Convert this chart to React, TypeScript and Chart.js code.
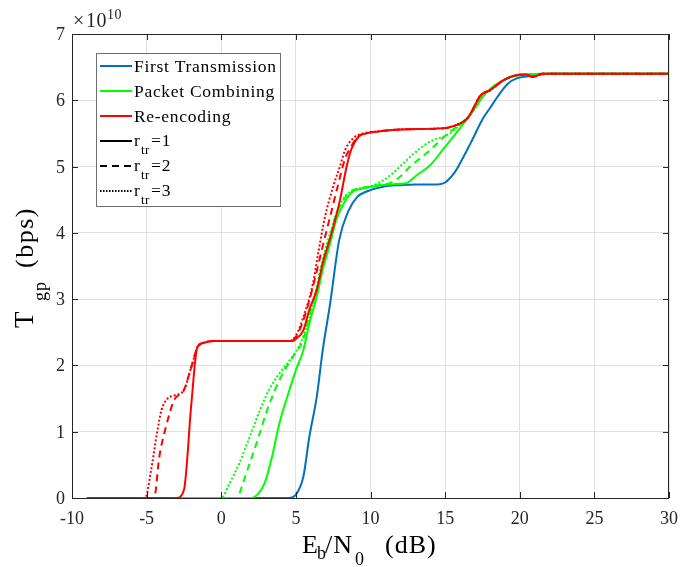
import React, { useEffect, useRef } from "react";
import { Chart, registerables } from "chart.js";

Chart.register(...registerables);

// ---- axis ticks ----
const xTicks = [-10, -5, 0, 5, 10, 15, 20, 25, 30];
const yTicks = [0, 1, 2, 3, 4, 5, 6, 7];
const xTickLabels = ["-10", "-5", "0", "5", "10", "15", "20", "25", "30"];
const yTickLabels = ["0", "1", "2", "3", "4", "5", "6", "7"];

// ---- series (Eb/N0 in dB, throughput in units of 1e10 bps) ----
const ftX = [-9, 4.5, 5.0, 5.5, 5.9, 6.4, 6.8, 7.3, 7.9, 8.5, 9.1, 9.7, 10.9, 12, 13, 14.5, 15, 15.6, 16, 16.7, 17.6, 18, 18.5, 19.2, 19.8, 20.9, 22, 30];
const ftY = [0, 0, 0.05, 0.32, 0.92, 1.53, 2.23, 2.94, 3.89, 4.32, 4.54, 4.62, 4.70, 4.72, 4.73, 4.73, 4.76, 4.9, 5.05, 5.35, 5.75, 5.88, 6.05, 6.25, 6.33, 6.37, 6.40, 6.40];

const pc1X = [-9, 2.0, 2.5, 2.9, 3.4, 3.9, 4.5, 5.0, 5.5, 5.9, 6.4, 6.8, 7.3, 7.7, 8.2, 8.8, 9.5, 10.5, 12, 12.4, 13.1, 14, 14.9, 16, 16.9, 17.6, 18.5, 19.5, 20.5, 22, 30];
const pc1Y = [0, 0, 0.07, 0.22, 0.62, 1.13, 1.58, 1.93, 2.23, 2.63, 3.04, 3.44, 3.84, 4.19, 4.44, 4.62, 4.67, 4.71, 4.74, 4.75, 4.87, 5.02, 5.27, 5.58, 5.85, 6.08, 6.25, 6.36, 6.39, 6.40, 6.40];

const pc2X = [-9, 1.1, 1.3, 1.9, 2.5, 3.0, 3.6, 4.25, 4.8, 5.5, 5.9, 6.4, 6.8, 7.3, 7.7, 8.2, 8.8, 9.5, 10.5, 11.3, 12, 12.65, 13.3, 14, 14.7, 15.3, 16.2, 16.9, 17.6, 18.5, 19.5, 20.5, 22, 30];
const pc2Y = [0, 0, 0.12, 0.52, 0.92, 1.28, 1.63, 1.93, 2.13, 2.4, 2.75, 3.15, 3.55, 3.95, 4.27, 4.5, 4.64, 4.68, 4.72, 4.75, 4.85, 5.0, 5.12, 5.25, 5.4, 5.52, 5.68, 5.85, 6.08, 6.25, 6.36, 6.39, 6.40, 6.40];

const pc3X = [-9, 0, 0.55, 1.2, 1.9, 2.6, 3.2, 3.9, 4.6, 5.3, 5.8, 6.3, 6.8, 7.3, 7.8, 8.3, 8.9, 9.5, 10, 10.9, 11.5, 12.2, 13.3, 14.2, 15.1, 16, 16.7, 17.5, 18.5, 19.5, 20.5, 22, 30];
const pc3Y = [0, 0, 0.22, 0.52, 0.92, 1.33, 1.63, 1.88, 2.08, 2.33, 2.65, 3.1, 3.6, 4.0, 4.35, 4.55, 4.65, 4.68, 4.7, 4.8, 4.9, 5.05, 5.27, 5.4, 5.47, 5.63, 5.78, 6.05, 6.25, 6.36, 6.39, 6.40, 6.40];

const re1X = [-9, -3.0, -2.5, -2.0, -1.6, -1.2, -0.5, 4.8, 5.0, 5.5, 5.9, 6.4, 6.8, 7.4, 7.95, 8.4, 8.7, 9.2, 9.7, 10.5, 12, 15, 15.4, 16.5, 17.4, 18, 18.9, 19.6, 20.4, 20.9, 21.5, 30];
const re1Y = [0, 0, 0.12, 1.43, 2.28, 2.34, 2.37, 2.37, 2.4, 2.53, 2.84, 3.14, 3.54, 4.0, 4.49, 5.0, 5.25, 5.45, 5.5, 5.53, 5.56, 5.58, 5.6, 5.73, 6.08, 6.15, 6.3, 6.37, 6.39, 6.35, 6.40, 6.40];

const re2X = [-9, -4.5, -4.15, -3.7, -3.15, -2.5, -2.0, -1.6, -1.2, -0.5, 4.7, 5.0, 5.4, 5.9, 6.3, 6.8, 7.3, 7.8, 8.3, 8.7, 9.2, 9.7, 10.5, 12, 15, 15.4, 16.5, 17.4, 18, 18.9, 19.6, 20.4, 20.9, 21.5, 30];
const re2Y = [0, 0, 0.62, 1.08, 1.48, 1.63, 1.98, 2.27, 2.34, 2.37, 2.37, 2.43, 2.62, 2.98, 3.33, 3.8, 4.25, 4.7, 5.12, 5.3, 5.46, 5.5, 5.53, 5.56, 5.58, 5.6, 5.73, 6.08, 6.15, 6.3, 6.37, 6.39, 6.35, 6.40, 6.40];

const re3X = [-9, -5.1, -4.7, -4.35, -4.0, -3.6, -3.1, -2.5, -2.0, -1.6, -1.2, -0.5, 4.6, 5.0, 5.5, 6.15, 6.5, 6.95, 7.5, 7.95, 8.3, 8.9, 9.5, 10.5, 12, 15, 15.4, 16.5, 17.4, 18, 18.9, 19.6, 20.4, 20.9, 21.5, 30];
const re3Y = [0, 0, 0.42, 0.92, 1.33, 1.5, 1.55, 1.63, 1.98, 2.27, 2.34, 2.37, 2.37, 2.45, 2.73, 3.24, 3.7, 4.24, 4.7, 5.0, 5.25, 5.44, 5.5, 5.53, 5.56, 5.58, 5.6, 5.73, 6.08, 6.15, 6.3, 6.37, 6.39, 6.35, 6.40, 6.40];

const schemeNames = ["First Transmission", "Packet Combining", "Re-encoding"];
const rtrValues = ["1", "2", "3"];

const BLUE = "#0072BD";
const GREEN = "#00FF00";
const RED = "#FF0000";
const DASH = [7, 5];
const DOT = [2, 2];
const SERIF = '"Liberation Serif", "Times New Roman", serif';

function pts(xs: number[], ys: number[]) {
  return xs.map((x, i) => ({ x, y: ys[i] }));
}

function txt(ctx: CanvasRenderingContext2D, s: string, x: number, y: number, size: number, align: CanvasTextAlign = "left", spacing = 0) {
  ctx.font = `${size}px ${SERIF}`;
  ctx.textAlign = align;
  ctx.textBaseline = "alphabetic";
  (ctx as any).letterSpacing = `${spacing}px`;
  ctx.fillText(s, x, y);
  (ctx as any).letterSpacing = "0px";
}

const decor = {
  id: "matlabDecor",
  afterDraw(chart: any) {
    const ctx: CanvasRenderingContext2D = chart.ctx;
    const { left, right, top, bottom } = chart.chartArea;
    const xs = chart.scales.x;
    const ys = chart.scales.y;
    ctx.save();
    // axes box
    ctx.strokeStyle = "#262626";
    ctx.lineWidth = 1;
    ctx.beginPath();
    ctx.rect(left + 0.5, top + 0.5, right - left - 1, bottom - top);
    ctx.stroke();
    // ticks
    const tl = 6;
    ctx.beginPath();
    xTicks.forEach((v) => {
      const px = Math.round(xs.getPixelForValue(v)) + 0.5;
      ctx.moveTo(px, bottom);
      ctx.lineTo(px, bottom - tl);
      ctx.moveTo(px, top);
      ctx.lineTo(px, top + tl);
    });
    yTicks.forEach((v) => {
      const py = Math.round(ys.getPixelForValue(v)) + 0.5;
      ctx.moveTo(left, py);
      ctx.lineTo(left + tl, py);
      ctx.moveTo(right, py);
      ctx.lineTo(right - tl, py);
    });
    ctx.stroke();
    // tick labels
    ctx.fillStyle = "#262626";
    xTicks.forEach((v, i) => {
      txt(ctx, xTickLabels[i], xs.getPixelForValue(v), 524, 18, "center");
    });
    yTicks.forEach((v, i) => {
      txt(ctx, yTickLabels[i], 65, ys.getPixelForValue(v) + 6, 18, "right");
    });
    // exponent
    txt(ctx, "\u00d7", 73, 27, 20);
    txt(ctx, "10", 86, 27, 20, "left", 0.5);
    txt(ctx, "10", 107, 19, 14, "left", 0.5);
    // x label: E_b/N_0 (dB)
    ctx.fillStyle = "#000";
    txt(ctx, "E", 302, 553, 26);
    txt(ctx, "b", 317, 559, 18);
    txt(ctx, "/N", 325, 553, 26, "left", 1);
    txt(ctx, "0", 355, 565, 18);
    txt(ctx, "(dB)", 385, 553, 26, "left", 1);
    // y label: T_gp (bps)
    ctx.save();
    ctx.translate(33, 328);
    ctx.rotate(-Math.PI / 2);
    txt(ctx, "T", 0, 0, 27);
    txt(ctx, "gp", 27, 13, 18, "left", 1);
    txt(ctx, "(bps)", 60, 0, 26, "left", 1.5);
    ctx.restore();
    // legend
    const lx0 = 96, ly0 = 53, lx1 = 280, ly1 = 206;
    ctx.fillStyle = "#fff";
    ctx.fillRect(lx0, ly0, lx1 - lx0, ly1 - ly0);
    ctx.strokeStyle = "#6e6e6e";
    ctx.lineWidth = 1;
    ctx.strokeRect(lx0 + 0.5, ly0 + 0.5, lx1 - lx0, ly1 - ly0);
    const rowY = [66, 91, 116, 141, 166, 191];
    const colors = [BLUE, GREEN, RED];
    const dashes = [[], DASH, [1.5, 1.5]];
    ctx.lineWidth = 2;
    for (let i = 0; i < 3; i++) {
      ctx.strokeStyle = colors[i];
      ctx.setLineDash([]);
      ctx.beginPath();
      ctx.moveTo(100, rowY[i]);
      ctx.lineTo(132, rowY[i]);
      ctx.stroke();
      ctx.fillStyle = "#000";
      txt(ctx, schemeNames[i], 134, rowY[i] + 6, 17.5, "left", 0.7);
    }
    for (let i = 0; i < 3; i++) {
      const y = rowY[i + 3];
      ctx.strokeStyle = "#000";
      ctx.setLineDash(dashes[i]);
      ctx.beginPath();
      ctx.moveTo(100, y);
      ctx.lineTo(132, y);
      ctx.stroke();
      ctx.setLineDash([]);
      ctx.fillStyle = "#000";
      txt(ctx, "r", 134, y + 5, 17.5);
      txt(ctx, "tr", 141, y + 13, 13, "left", 0.5);
      txt(ctx, "=" + rtrValues[i], 151, y + 5, 17.5, "left", 0.8);
    }
    ctx.restore();
  },
};

export default function App() {
  const ref = useRef<HTMLCanvasElement | null>(null);
  useEffect(() => {
    document.body.style.margin = "0";
    const canvas = ref.current!;
    const mk = (label: string, xs: number[], ys: number[], color: string, dash: number[], order: number) => ({
      label,
      data: pts(xs, ys),
      borderColor: color,
      backgroundColor: color,
      borderWidth: 2,
      borderDash: dash,
      pointRadius: 0,
      fill: false,
      cubicInterpolationMode: "monotone" as const,
      order,
    });
    const chart = new Chart(canvas, {
      type: "line",
      data: {
        datasets: [
          mk("Re-encoding r=1", re1X, re1Y, RED, [], 0),
          mk("Re-encoding r=2", re2X, re2Y, RED, DASH, 0),
          mk("Re-encoding r=3", re3X, re3Y, RED, DOT, 0),
          mk("Packet Combining r=1", pc1X, pc1Y, GREEN, [], 1),
          mk("Packet Combining r=2", pc2X, pc2Y, GREEN, DASH, 1),
          mk("Packet Combining r=3", pc3X, pc3Y, GREEN, DOT, 1),
          mk("First Transmission", ftX, ftY, BLUE, [], 2),
        ],
      },
      options: {
        responsive: false,
        animation: false,
        devicePixelRatio: 1,
        layout: { padding: { top: 34, right: 28, left: 0, bottom: 0 } },
        plugins: { legend: { display: false }, tooltip: { enabled: false } },
        scales: {
          x: {
            type: "linear",
            min: -10,
            max: 30,
            afterBuildTicks: (s: any) => {
              s.ticks = xTicks.map((v) => ({ value: v }));
            },
            afterFit: (s: any) => {
              s.height = 69;
            },
            ticks: { display: false },
            grid: { color: "#e1e1e1", lineWidth: 1, drawTicks: false },
            border: { display: false },
          },
          y: {
            type: "linear",
            min: 0,
            max: 7,
            afterBuildTicks: (s: any) => {
              s.ticks = yTicks.map((v) => ({ value: v }));
            },
            afterFit: (s: any) => {
              s.width = 72;
            },
            ticks: { display: false },
            grid: { color: "#e1e1e1", lineWidth: 1, drawTicks: false },
            border: { display: false },
          },
        },
      },
      plugins: [decor],
    });
    return () => chart.destroy();
  }, []);
  return (
    <div style={{ position: "absolute", left: 0, top: 0, width: 697, height: 567, background: "#fff" }}>
      <canvas ref={ref} width={697} height={567} style={{ display: "block" }} />
    </div>
  );
}
